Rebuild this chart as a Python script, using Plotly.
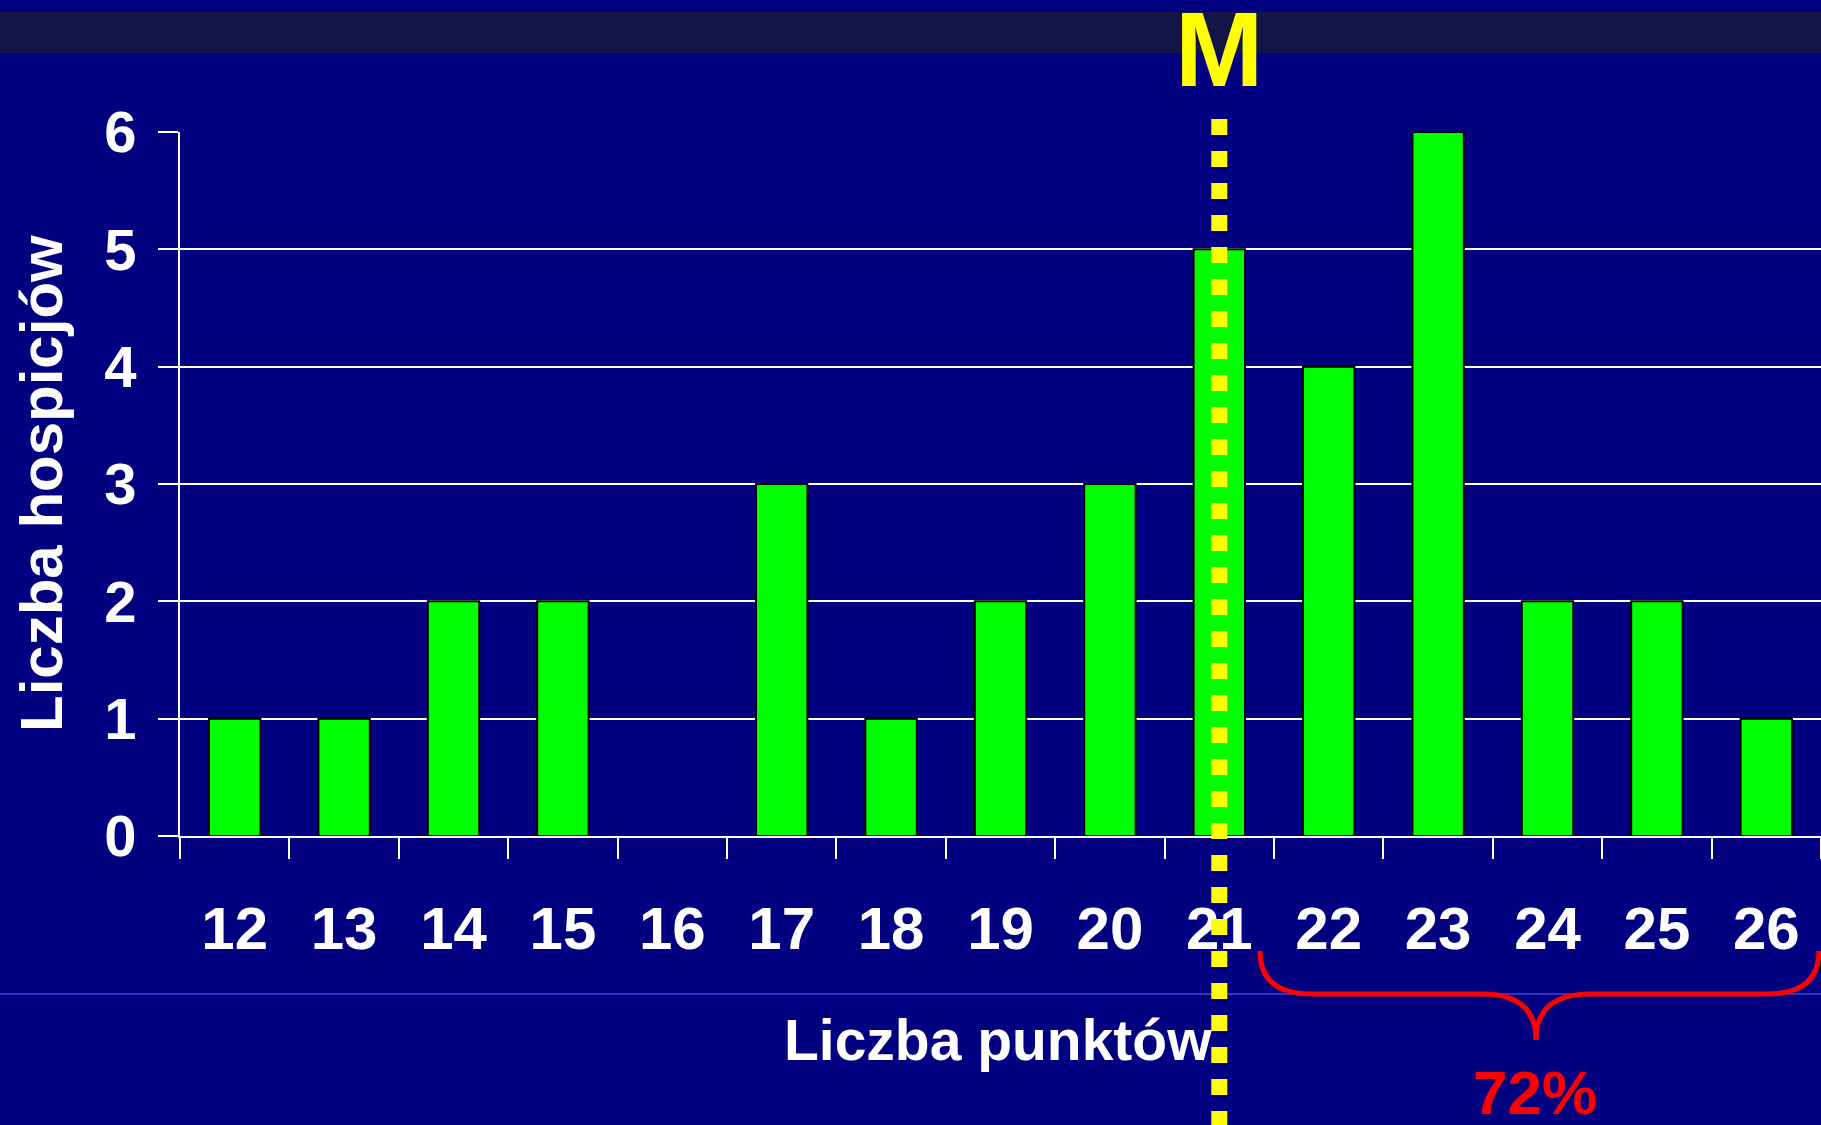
import plotly.graph_objects as go

# ---- data ----
points = [12, 13, 14, 15, 16, 17, 18, 19, 20, 21, 22, 23, 24, 25, 26]
hospices = [1, 1, 2, 2, 0, 3, 1, 2, 3, 5, 4, 6, 2, 2, 1]
median_points = 21
y_ticks = [0, 1, 2, 3, 4, 5, 6]
share_label = "72%"
x_title = "Liczba punktów"
y_title = "Liczba hospicjów"

# ---- geometry ----
W, H = 1821, 1125
ML, MR, MT, MB = 180, 0, 132, 289
PW, PH = W - ML - MR, H - MT - MB


def px(x):
    return (x - ML) / PW


def py(y):
    return (H - MB - y) / PH


FONT = "Liberation Sans, Arial, sans-serif"
NAVY = "#000080"

fig = go.Figure()
fig.add_trace(go.Bar(
    x=points, y=hospices,
    marker=dict(color="#00FF00",
                line=dict(color="#000000", width=[0 if v == 0 else 2 for v in hospices])),
    width=0.47,
))

boundaries = [p - 0.5 for p in points] + [points[-1] + 0.5]

fig.update_layout(
    width=W, height=H,
    margin=dict(l=ML, r=MR, t=MT, b=MB, pad=0),
    paper_bgcolor=NAVY, plot_bgcolor=NAVY,
    showlegend=False,
    font=dict(family=FONT, color="white", weight="bold"),
    xaxis=dict(
        range=[points[0] - 0.5, points[-1] + 0.5],
        tickmode="array", tickvals=points, ticktext=[str(p) for p in points],
        ticks="", showgrid=False, zeroline=False,
        showline=True, linecolor="white", linewidth=2,
        tickfont=dict(size=60, family=FONT, color="white", weight="bold"),
        ticklabelstandoff=39,
        minor=dict(tickmode="array", tickvals=boundaries, ticks="outside",
                   ticklen=21, tickwidth=2, tickcolor="white", showgrid=False),
    ),
    yaxis=dict(
        range=[0, 6], tickmode="array", tickvals=y_ticks,
        ticks="outside", ticklen=20, tickwidth=2, tickcolor="white",
        showgrid=True, gridcolor="white", gridwidth=2,
        zeroline=False, showline=True, linecolor="white", linewidth=2,
        tickfont=dict(size=58, family=FONT, color="white", weight="bold"),
        ticklabelstandoff=10,
    ),
)

shapes = [
    # dark band at top
    dict(type="rect", xref="paper", yref="paper", x0=px(0), x1=px(W), y0=py(53), y1=py(12),
         fillcolor="#141547", line=dict(width=0), layer="below"),
    # thin light-blue separator line
    dict(type="line", xref="paper", yref="paper", x0=px(0), x1=px(W), y0=py(994), y1=py(994),
         line=dict(color="#4646D8", width=1.5), layer="below"),
    # median dotted line
    dict(type="line", xref="x", yref="paper", x0=median_points, x1=median_points,
         y0=py(119), y1=py(H + 5),
         line=dict(color="#FFFF00", width=16, dash="16px,16px"), layer="above"),
]

# curly brace
pts = {
    "a": (1260, 951), "c1": (1260, 994), "b": (1311, 994), "c": (1482, 994),
    "c2": (1536, 994), "m": (1536, 1040), "d": (1590, 994), "e": (1767, 994),
    "c3": (1819, 994), "f": (1819, 951),
}


def P(k):
    x, y = pts[k]
    return f"{px(x):.5f},{py(y):.5f}"


path = (f"M {P('a')} Q {P('c1')} {P('b')} L {P('c')} Q {P('c2')} {P('m')} "
        f"Q {P('c2')} {P('d')} L {P('e')} Q {P('c3')} {P('f')}")
shapes.append(dict(type="path", xref="paper", yref="paper", path=path,
                   line=dict(color="#FF0000", width=5)))
fig.update_layout(shapes=shapes)

annotations = [
    dict(text=y_title, xref="paper", yref="paper", x=px(41), y=0.5, textangle=-90,
         showarrow=False, xanchor="center", yanchor="middle",
         font=dict(size=60, family=FONT, color="white", weight="bold")),
    dict(text=x_title, xref="paper", yref="paper", x=px(998), y=py(1040),
         showarrow=False, xanchor="center", yanchor="middle",
         font=dict(size=57, family=FONT, color="white", weight="bold")),
    dict(text="M", xref="x", yref="paper", x=median_points, y=py(49),
         showarrow=False, xanchor="center", yanchor="middle",
         font=dict(size=106, family=FONT, color="#FFFF00", weight="bold")),
    dict(text=share_label, xref="paper", yref="paper", x=px(1535), y=py(1092),
         showarrow=False, xanchor="center", yanchor="middle",
         font=dict(size=62, family=FONT, color="#FF0000", weight="bold")),
]
fig.update_layout(annotations=annotations)

fig.write_html("out.html", config={"displayModeBar": False},
               post_script="document.body.style.margin='0';document.body.style.overflow='hidden';")
